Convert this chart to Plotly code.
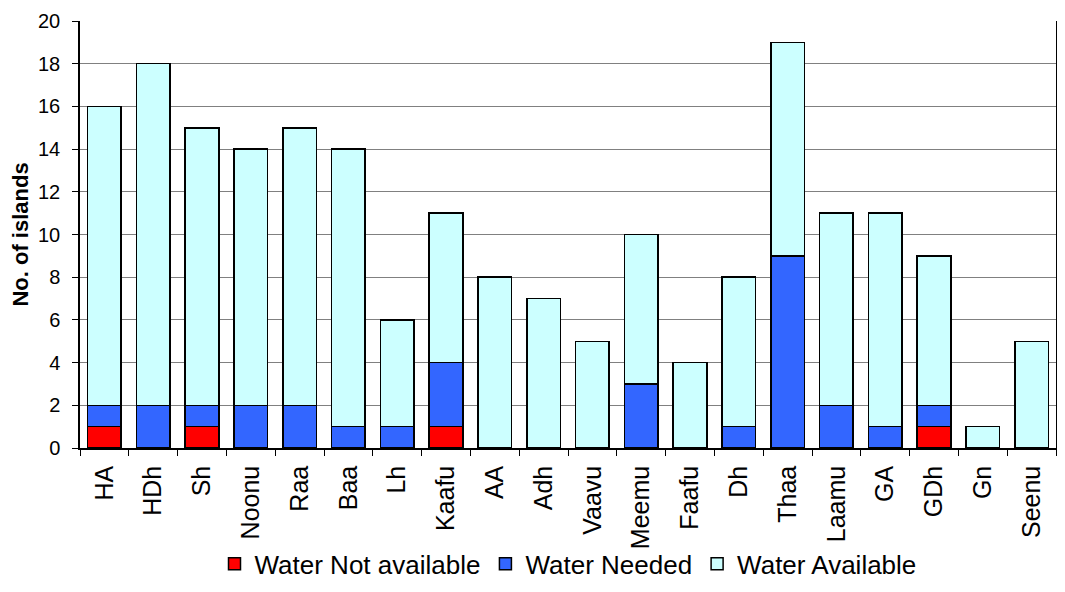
import plotly.graph_objects as go

atolls = ["HA", "HDh", "Sh", "Noonu", "Raa", "Baa", "Lh", "Kaafu", "AA", "Adh",
          "Vaavu", "Meemu", "Faafu", "Dh", "Thaa", "Laamu", "GA", "GDh", "Gn", "Seenu"]
not_available = [1, 0, 1, 0, 0, 0, 0, 1, 0, 0, 0, 0, 0, 0, 0, 0, 0, 1, 0, 0]
needed = [1, 2, 1, 2, 2, 1, 1, 3, 0, 0, 0, 3, 0, 1, 9, 2, 1, 1, 0, 0]
available = [14, 16, 13, 12, 13, 13, 5, 7, 8, 7, 5, 7, 4, 7, 10, 9, 10, 7, 1, 5]

fig = go.Figure()
for name, vals, col in [("Water Not available", not_available, "#FF0000"),
                        ("Water Needed", needed, "#3366FF"),
                        ("Water Available", available, "#CCFFFF")]:
    # zero-height segments would still draw an outline, so drop them
    y = [v if v else None for v in vals]
    fig.add_trace(go.Bar(x=atolls, y=y, name=name, width=0.69,
                         marker=dict(color=col, line=dict(color="black", width=1.5))))

# the page body keeps its 8px margin, so size the figure to fit the window exactly
fig.update_layout(
    barmode="stack",
    width=1049, height=576,
    margin=dict(l=72, r=1, t=13, b=136),
    plot_bgcolor="white", paper_bgcolor="white",
    font=dict(family="Liberation Sans, Arial", size=21, color="black"),
    legend=dict(orientation="h", x=0.5, xanchor="center", yref="container",
                y=0.035, yanchor="middle", bgcolor="rgba(0,0,0,0)",
                font=dict(size=26), traceorder="normal", itemwidth=30),
    xaxis=dict(tickangle=-90, showline=True, linecolor="black", linewidth=1.5,
               ticks="outside", tickson="boundaries", ticklen=6, tickcolor="black",
               tickfont=dict(size=25), ticklabelstandoff=6, automargin=False),
    yaxis=dict(range=[0, 20], dtick=2, showline=True, linecolor="black", linewidth=1.5,
               mirror=True, ticks="outside", ticklen=6, tickcolor="black",
               gridcolor="#808080", gridwidth=1, zeroline=False, automargin=False,
               ticklabeloverflow="allow", ticklabelstandoff=8,
               title=dict(text="<b>No. of islands</b>", font=dict(size=22), standoff=5),
               tickfont=dict(size=20)),
)

fig.write_html("out.html")
